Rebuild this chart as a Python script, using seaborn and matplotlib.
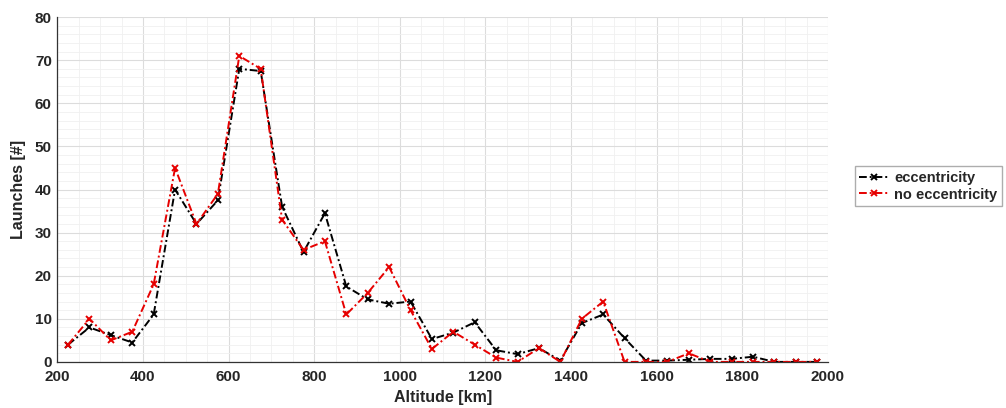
import numpy as np
import pandas as pd
import matplotlib
matplotlib.use("Agg")
import matplotlib.pyplot as plt
from matplotlib.ticker import MultipleLocator
import seaborn as sns

altitude = list(range(225, 2000, 50))
eccentricity = [4, 8, 6.2, 4.5, 11, 40, 32, 37.5, 68, 67.5, 36, 25.5, 34.5, 17.5,
                14.5, 13.5, 14, 5.3, 6.8, 9.2, 2.7, 1.8, 3.2, 0.3, 9, 11, 5.5,
                0.3, 0.3, 0.5, 0.7, 0.7, 1.2, 0, 0, 0]
no_eccentricity = [4, 10, 5, 7, 18, 45, 32, 39, 71, 68, 33, 26, 28, 11, 16, 22,
                   12, 3, 7, 4, 1, 0, 3.2, 0, 10, 14, 0, 0, 0, 2, 0, 0, 0, 0, 0, 0]

sns.set_style("white")
plt.rcParams['font.family'] = ['Liberation Sans', 'DejaVu Sans']

fig = plt.figure(figsize=(10.06, 4.08), dpi=100)
ax = fig.add_axes([0.057, 0.113, 0.766, 0.845])

df = pd.DataFrame({"alt": altitude, "ecc": eccentricity, "noecc": no_eccentricity})
for col, color, name in [("ecc", "black", "eccentricity"),
                         ("noecc", "#e60000", "no eccentricity")]:
    sns.lineplot(data=df, x="alt", y=col, ax=ax, color=color,
                 marker="x", markersize=5, markeredgewidth=1.4,
                 markeredgecolor=color, markerfacecolor=color,
                 linewidth=1.4, label=name)
for line in ax.get_lines():
    line.set_dashes([4, 1.5, 1, 1.5])

ax.set_xlim(200, 2000)
ax.set_ylim(0, 80)
ax.xaxis.set_major_locator(MultipleLocator(200))
ax.xaxis.set_minor_locator(MultipleLocator(50))
ax.yaxis.set_major_locator(MultipleLocator(10))
ax.yaxis.set_minor_locator(MultipleLocator(2))
ax.grid(which="major", color="#dcdcdc", linewidth=0.8)
ax.grid(which="minor", color="#f0f0f0", linewidth=0.6)
ax.set_axisbelow(True)

for s in ["top", "right"]:
    ax.spines[s].set_visible(False)
for s in ["left", "bottom"]:
    ax.spines[s].set_color("#333333")
    ax.spines[s].set_linewidth(0.9)
ax.tick_params(axis="both", which="major", labelsize=11, direction="in",
               length=3, color="#333333")
ax.tick_params(axis="x", pad=6)
ax.tick_params(axis="y", pad=4)
for lab in ax.get_xticklabels() + ax.get_yticklabels():
    lab.set_fontweight("bold")

ax.set_xlabel("Altitude [km]", fontsize=11.5, fontweight="bold", labelpad=4)
ax.set_ylabel("Launches [#]", fontsize=11.5, fontweight="bold", labelpad=6)

leg = ax.legend(loc="center left", bbox_to_anchor=(1.035, 0.51), fontsize=10.5,
                frameon=True, fancybox=False, edgecolor="#999999",
                borderpad=0.3, labelspacing=0.2, handlelength=2.0,
                handletextpad=0.4, borderaxespad=0)
for t in leg.get_texts():
    t.set_fontweight("bold")

fig.savefig("out.png", dpi=100)
